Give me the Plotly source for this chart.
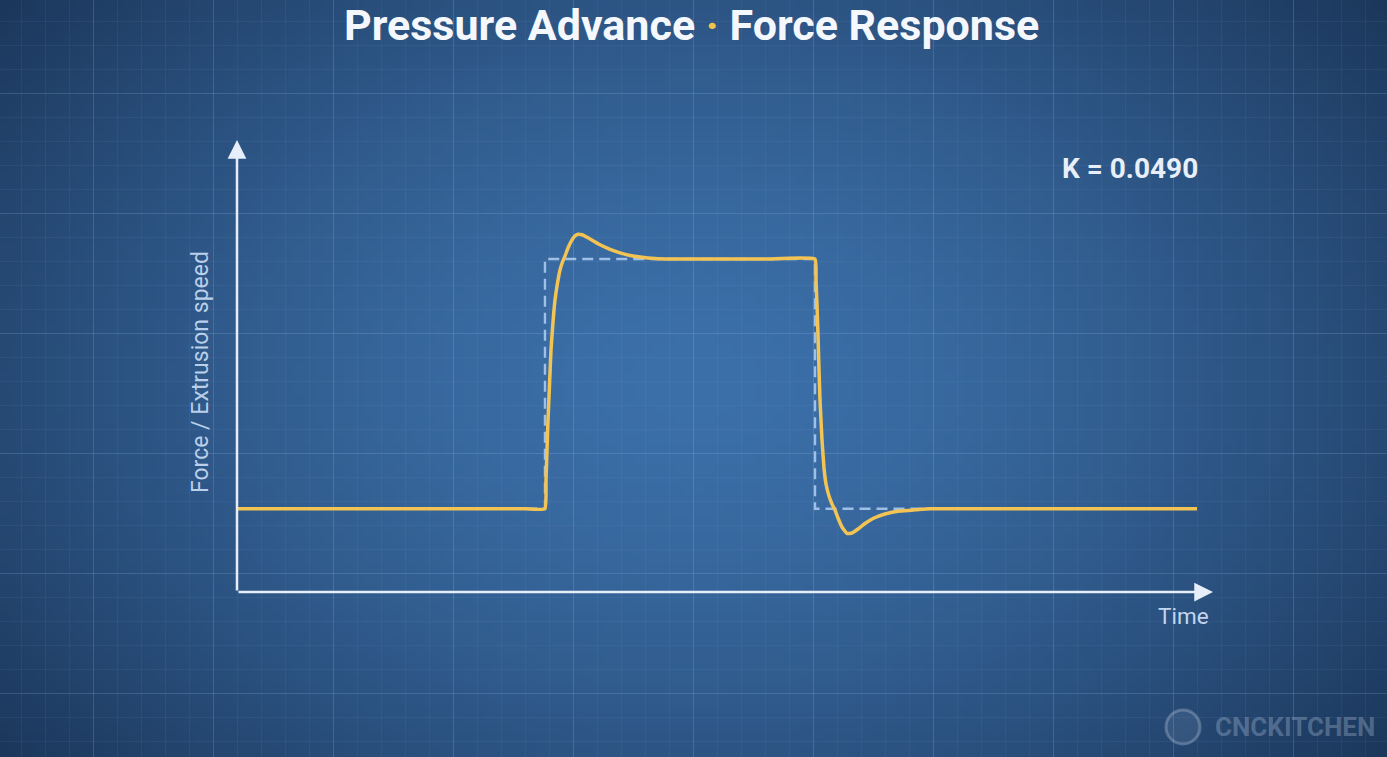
import base64
import struct
import zlib

import numpy as np
import plotly.graph_objects as go

# ---------------- data ----------------
time_ideal = [0.0, 3.208, 3.208, 6.021, 6.021, 10.0]
force_ideal = [0.25, 0.25, 1.0, 1.0, 0.25, 0.25]

time_resp = [0.0, 3.0, 3.2083, 3.2188, 3.2292, 3.2396, 3.2552, 3.2708, 3.2917,
             3.3125, 3.3385, 3.3646, 3.3906, 3.4167, 3.4479, 3.4896, 3.5208,
             3.5521, 3.5938, 3.6563, 3.7188, 3.7813, 3.8854, 3.9896, 4.0938,
             4.1979, 4.3542, 4.5104, 5.5, 6.0208, 6.0313, 6.0417, 6.0521,
             6.0625, 6.0729, 6.0938, 6.1146, 6.1354, 6.1667, 6.1979, 6.2292,
             6.2604, 6.3021, 6.3542, 6.4063, 6.4688, 6.5417, 6.625, 6.75,
             6.9063, 7.0625, 7.2188, 8.5, 10.0]
force_resp = [0.25, 0.25, 0.25, 0.3363, 0.4264, 0.5165, 0.6216, 0.7267, 0.8108,
              0.8769, 0.9279, 0.9670, 0.9910, 1.0090, 1.0330, 1.0577, 1.0697,
              1.0743, 1.0727, 1.0637, 1.0532, 1.0426, 1.0291, 1.0186, 1.0105,
              1.0060, 1.0015, 1.0, 1.0, 1.0, 0.9369, 0.8619, 0.7718,
              0.6667, 0.5766, 0.4565, 0.3724, 0.3243, 0.2883, 0.2643, 0.2462,
              0.2222, 0.1952, 0.1757, 0.1772, 0.1892, 0.2057, 0.2207, 0.2342,
              0.2432, 0.2468, 0.25, 0.25, 0.25]

title_text = "Pressure Advance <span style='color:#f2c14e'>·</span> Force Response"
k_label = "K = 0.0490"
x_label = "Time"
y_label = "Force / Extrusion speed"
watermark = "CNCKITCHEN"

W, H = 1387, 757


# ---------------- background vignette (PNG data uri) ----------------
def make_png(w, h):
    ys, xs = np.mgrid[0:h, 0:w]
    cx, cy = (w - 1) / 2.0, (h - 1) / 2.0
    r = np.sqrt(((xs - cx) / (w * 0.6)) ** 2 + ((ys - cy) / (h * 0.75)) ** 2)
    t = np.clip(r / 1.1, 0, 1) ** 1.6
    center = np.array([60, 112, 169], dtype=float)
    edge = np.array([26, 52, 87], dtype=float)
    img = center[None, None, :] * (1 - t[..., None]) + edge[None, None, :] * t[..., None]
    img = np.clip(img, 0, 255).astype(np.uint8)
    raw = b"".join(b"\x00" + img[row].tobytes() for row in range(h))

    def chunk(tag, data):
        c = struct.pack(">I", len(data)) + tag + data
        return c + struct.pack(">I", zlib.crc32(tag + data) & 0xFFFFFFFF)

    png = b"\x89PNG\r\n\x1a\n"
    png += chunk(b"IHDR", struct.pack(">IIBBBBB", w, h, 8, 2, 0, 0, 0))
    png += chunk(b"IDAT", zlib.compress(raw, 9))
    png += chunk(b"IEND", b"")
    return "data:image/png;base64," + base64.b64encode(png).decode()


bg_uri = make_png(139, 76)

# pixel scale of the data axes (origin at px 237,592)
PX_X = 96.0
PX_Y = 333.0
x_range = [-237 / PX_X, (W - 237) / PX_X]
y_range = [(592 - H) / PX_Y, 592 / PX_Y]

fig = go.Figure()

fig.add_trace(go.Scatter(
    x=time_ideal, y=force_ideal, mode="lines",
    line=dict(color="rgba(170,202,240,0.9)", width=2.4, dash="11px,6px"),
    hoverinfo="skip", showlegend=False,
))
fig.add_trace(go.Scatter(
    x=time_resp, y=force_resp, mode="lines",
    line=dict(color="#f3c453", width=3.5, shape="spline", smoothing=0.35),
    hoverinfo="skip", showlegend=False,
))

grid_major = "rgba(150,190,235,0.22)"
grid_minor = "rgba(150,190,235,0.07)"

fig.update_xaxes(
    range=x_range, showticklabels=False, zeroline=False, showline=False,
    showgrid=True, gridcolor=grid_major, gridwidth=1,
    tick0=-1.5, dtick=120 / PX_X, ticks="",
    minor=dict(showgrid=True, gridcolor=grid_minor, tick0=-1.5, dtick=24 / PX_X),
    fixedrange=True,
)
fig.update_yaxes(
    range=y_range, showticklabels=False, zeroline=False, showline=False,
    showgrid=True, gridcolor=grid_major, gridwidth=1,
    tick0=(592 - 93) / PX_Y, dtick=120 / PX_Y, ticks="",
    minor=dict(showgrid=True, gridcolor=grid_minor, tick0=(592 - 93) / PX_Y, dtick=24 / PX_Y),
    fixedrange=True,
)

axis_col = "#e6eef9"
annotations = [
    # x axis arrow
    dict(x=(1213 - 237) / PX_X, y=0, ax=0, ay=0, xref="x", yref="y", axref="x", ayref="y",
         text="", showarrow=True, arrowhead=2, arrowsize=1.5, arrowwidth=2.5, arrowcolor=axis_col),
    # y axis arrow
    dict(x=0, y=(592 - 140) / PX_Y, ax=0, ay=0, xref="x", yref="y", axref="x", ayref="y",
         text="", showarrow=True, arrowhead=2, arrowsize=1.5, arrowwidth=2.5, arrowcolor=axis_col),
    dict(x=(1183 - 237) / PX_X, y=(592 - 616) / PX_Y, xref="x", yref="y", text=x_label,
         showarrow=False, font=dict(family="Roboto", size=22.5, color="#c3d6ee")),
    dict(x=(200 - 237) / PX_X, y=(592 - 372) / PX_Y, xref="x", yref="y", text=y_label,
         textangle=-90, showarrow=False, font=dict(family="Roboto", size=23, color="#b9cfea")),
    dict(x=691 / W, y=1 - 25 / H, xref="paper", yref="paper", xanchor="center", yanchor="middle",
         text="<b>" + title_text + "</b>", showarrow=False,
         font=dict(family="Roboto", size=43, color="#f4f8fc")),
    dict(x=1200 / W, y=1 - 168 / H, xref="paper", yref="paper", xanchor="right", yanchor="middle",
         text="<b>" + k_label + "</b>", showarrow=False,
         font=dict(family="Roboto", size=28, color="#e8eff8")),
    dict(x=1377 / W, y=1 - 727 / H, xref="paper", yref="paper", xanchor="right", yanchor="middle",
         text="<b>" + watermark + "</b>", showarrow=False,
         font=dict(family="Roboto", size=26, color="rgba(185,200,222,0.33)")),
]

shapes = [
    dict(type="circle", xref="paper", yref="paper",
         x0=1166 / W, x1=1200 / W, y0=1 - 744 / H, y1=1 - 710 / H,
         line=dict(color="rgba(185,200,222,0.33)", width=3),
         fillcolor="rgba(185,200,222,0.12)", layer="above"),
]

fig.update_layout(
    width=W, height=H,
    margin=dict(l=0, r=0, t=0, b=0),
    paper_bgcolor="#1d3a60",
    plot_bgcolor="rgba(0,0,0,0)",
    images=[dict(source=bg_uri, xref="paper", yref="paper", x=0, y=1, sizex=1, sizey=1,
                 sizing="stretch", xanchor="left", yanchor="top", layer="below")],
    annotations=annotations,
    shapes=shapes,
    showlegend=False,
)

fig.write_html(
    "out.html",
    config={"displayModeBar": False},
    post_script="document.body.style.margin='0';document.body.style.background='#1d3a60';",
)
